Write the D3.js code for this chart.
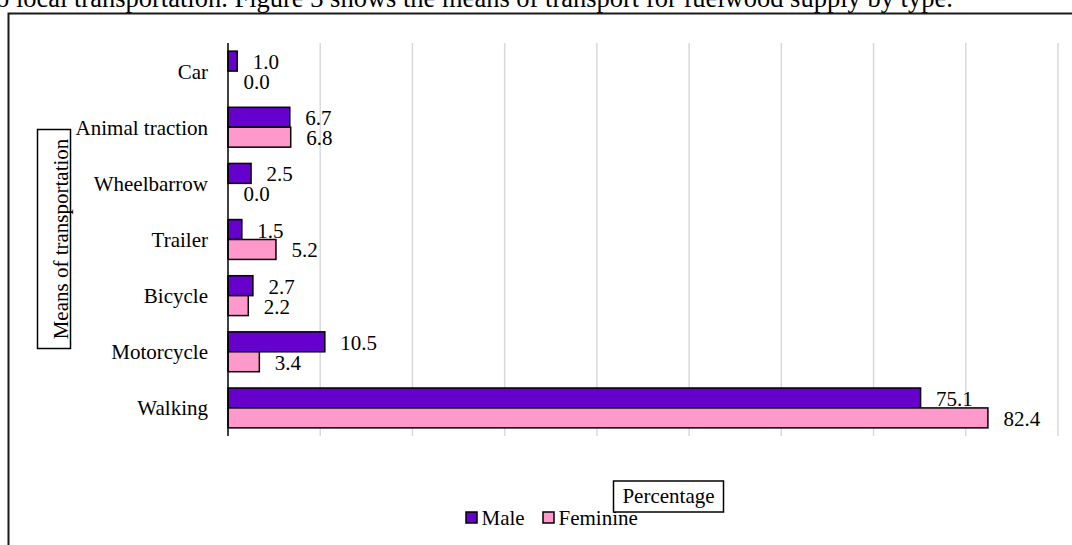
<!DOCTYPE html>
<html>
<head>
<meta charset="utf-8">
<script src="https://cdn.jsdelivr.net/npm/d3@7"></script>
<style>
  html, body { margin: 0; padding: 0; background: #fff; overflow: hidden; }
  svg { display: block; font-family: "Liberation Serif", "Times New Roman", serif; }
</style>
</head>
<body>
<svg id="chart" width="1072" height="545"></svg>
<script>
// values
const categories = ["Car", "Animal traction", "Wheelbarrow", "Trailer", "Bicycle", "Motorcycle", "Walking"];
const male = [1.0, 6.7, 2.5, 1.5, 2.7, 10.5, 75.1];
const feminine = [0.0, 6.8, 0.0, 5.2, 2.2, 3.4, 82.4];
const seriesNames = ["Male", "Feminine"];
const seriesColors = ["#6600cc", "#ff99cc"];
const xMax = 90;

const width = 1072, height = 545;
const svg = d3.select("#chart");

// paragraph line cut off above the figure
svg.append("text")
  .attr("x", -4).attr("y", 7)
  .attr("font-size", 26.5)
  .attr("fill", "#000")
  .text("o local transportation. Figure 3 shows the means of transport for fuelwood supply by type.");

// figure frame (runs off the page on the right and bottom)
svg.append("rect")
  .attr("x", 8.5).attr("y", 13.5)
  .attr("width", 1200).attr("height", 700)
  .attr("fill", "none")
  .attr("stroke", "#1a1a1a")
  .attr("stroke-width", 2);

const plot = { left: 228, right: 1058, top: 43, bottom: 436 };

const x = d3.scaleLinear().domain([0, xMax]).range([plot.left, plot.right]);
const y = d3.scaleBand().domain(categories).range([plot.top, plot.bottom])
  .paddingInner(0.29).paddingOuter(0.145);
const ySub = d3.scaleBand().domain(seriesNames).range([0, y.bandwidth()]);

// grid
svg.append("g")
  .selectAll("line")
  .data(x.ticks(9).filter(t => t > 0))
  .join("line")
  .attr("x1", d => x(d)).attr("x2", d => x(d))
  .attr("y1", plot.top).attr("y2", plot.bottom)
  .attr("stroke", "#d9d9d9")
  .attr("stroke-width", 1.5);

// bars
const rows = categories.map((c, i) => ({ cat: c, values: [male[i], feminine[i]] }));

const group = svg.append("g")
  .selectAll("g")
  .data(rows)
  .join("g")
  .attr("transform", d => `translate(0,${y(d.cat)})`);

const bars = group.selectAll("g")
  .data(d => d.values.map((v, j) => ({ name: seriesNames[j], value: v, color: seriesColors[j] })))
  .join("g");

bars.filter(d => d.value > 0)
  .append("rect")
  .attr("x", x(0))
  .attr("y", d => ySub(d.name))
  .attr("width", d => x(d.value) - x(0))
  .attr("height", ySub.bandwidth())
  .attr("fill", d => d.color)
  .attr("stroke", "#000")
  .attr("stroke-width", 1.5);

const fmt = d3.format(".1f");
bars.append("text")
  .attr("x", d => x(d.value) + 15.5)
  .attr("y", d => ySub(d.name) + ySub.bandwidth() / 2 + 8)
  .attr("font-size", 21)
  .attr("fill", "#000")
  .text(d => fmt(d.value));

// vertical axis line + category labels
svg.append("line")
  .attr("x1", plot.left).attr("x2", plot.left)
  .attr("y1", plot.top).attr("y2", plot.bottom)
  .attr("stroke", "#000")
  .attr("stroke-width", 1.5);

svg.append("g")
  .selectAll("text")
  .data(categories)
  .join("text")
  .attr("x", 208)
  .attr("y", d => y(d) + y.bandwidth() / 2 + 7.5)
  .attr("text-anchor", "end")
  .attr("font-size", 21)
  .text(d => d);

// y axis title in a box
svg.append("rect")
  .attr("x", 37.5).attr("y", 129.5)
  .attr("width", 33).attr("height", 219)
  .attr("fill", "#fff")
  .attr("stroke", "#000")
  .attr("stroke-width", 1.5);
svg.append("text")
  .attr("transform", "translate(67.5,239) rotate(-90)")
  .attr("text-anchor", "middle")
  .attr("font-size", 21)
  .text("Means of transportation");

// legend
const legend = svg.append("g")
  .selectAll("g")
  .data(seriesNames)
  .join("g")
  .attr("transform", (d, i) => `translate(${i === 0 ? 466 : 543},512)`);
legend.append("rect")
  .attr("width", 11).attr("height", 11)
  .attr("fill", (d, i) => seriesColors[i])
  .attr("stroke", "#000")
  .attr("stroke-width", 1.5);
legend.append("text")
  .attr("x", 15.5).attr("y", 12.5)
  .attr("font-size", 21)
  .text(d => d);

// x axis title box (sits over the legend in the original)
svg.append("rect")
  .attr("x", 613.5).attr("y", 481)
  .attr("width", 110).attr("height", 31)
  .attr("fill", "#fff")
  .attr("stroke", "#000")
  .attr("stroke-width", 1.5);
svg.append("text")
  .attr("x", 668.5).attr("y", 503)
  .attr("text-anchor", "middle")
  .attr("font-size", 21)
  .text("Percentage");
</script>
</body>
</html>
